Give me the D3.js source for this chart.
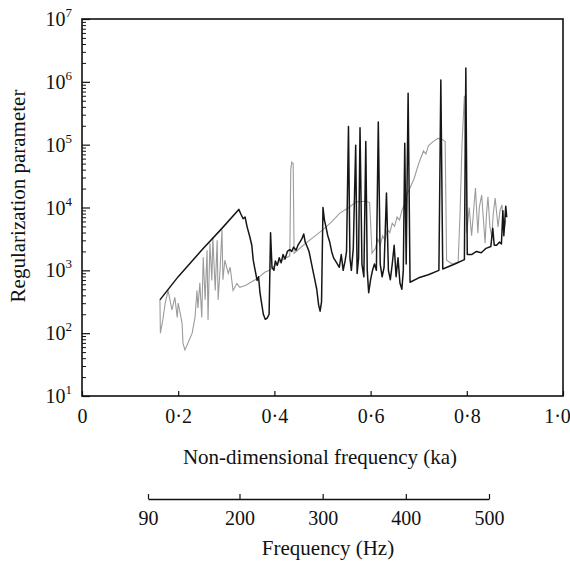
<!DOCTYPE html>
<html>
<head>
<meta charset="utf-8">
<script src="https://cdn.jsdelivr.net/npm/d3@7"></script>
<style>
  body { margin: 0; background: #fff; }
  svg text { font-family: "Liberation Serif", "DejaVu Serif", serif !important; fill: #111; }
</style>
</head>
<body>
<div id="chart"></div>
<script>
// data: ka values and the regularization parameter
let blackKa = [0.162, 0.20, 0.25, 0.29, 0.326, 0.330, 0.335, 0.339, 0.343, 0.349, 0.353, 0.356, 0.360, 0.364, 0.367, 0.370,
  0.374, 0.377, 0.381, 0.385, 0.389, 0.392, 0.395, 0.399, 0.402, 0.406, 0.410, 0.414, 0.418, 0.422, 0.427, 0.432, 0.436,
  0.440, 0.445, 0.449, 0.453, 0.457, 0.461, 0.464, 0.468, 0.472, 0.476, 0.480, 0.484, 0.488, 0.492, 0.495, 0.498, 0.501,
  0.504, 0.507, 0.511, 0.515, 0.519, 0.523, 0.527, 0.531, 0.535, 0.539, 0.543, 0.547, 0.550, 0.554, 0.557, 0.560, 0.564,
  0.569, 0.572, 0.575, 0.578, 0.582, 0.586, 0.590, 0.593, 0.596, 0.600, 0.604, 0.608, 0.612, 0.616, 0.620, 0.624, 0.628,
  0.633, 0.637, 0.641, 0.645, 0.649, 0.653, 0.657, 0.661, 0.665, 0.668, 0.671, 0.674, 0.678, 0.682, 0.700, 0.720, 0.742,
  0.746, 0.750, 0.775, 0.795, 0.798, 0.801, 0.810, 0.820, 0.830, 0.840, 0.850, 0.854, 0.857, 0.862, 0.868, 0.872, 0.875,
  0.877, 0.881, 0.883];
let blackVal = [339, 794, 2140, 4570, 9330, 7940, 6610, 7080, 5010, 3390, 2510, 1450, 1000, 690, 790, 440,
  280, 200, 166, 174, 200, 3980, 1120, 1000, 1410, 1200, 1580, 1320, 1780, 1510, 2000, 2140, 2000,
  2340, 2090, 2510, 2820, 3160, 3800, 2820, 2400, 2000, 1410, 1000, 710, 500, 280, 224, 316, 10000,
  6310, 5010, 3550, 2820, 2000, 1580, 1410, 1260, 1120, 1780, 1000, 1410, 2000, 195000, 1580, 1000, 2240,
  97700, 890, 1580, 186000, 1260, 790, 112000, 1000, 440, 710, 1000, 1260, 1000, 229000, 1260, 790, 1120,
  17000, 1000, 710, 1260, 2510, 790, 1580, 630, 500, 1000, 105000, 1260, 661000, 646, 760, 850, 1000,
  1070000, 1050, 1260, 1480, 1660000, 1780, 1780, 2000, 1900, 2240, 2400, 4680, 2510, 2510, 2820, 2630, 8910,
  3550, 10500, 7000];

let greyKa = [0.162, 0.163, 0.168, 0.173, 0.179, 0.187, 0.193, 0.198, 0.200, 0.208, 0.210, 0.214, 0.220, 0.229, 0.235,
  0.239, 0.241, 0.245, 0.249, 0.252, 0.256, 0.260, 0.262, 0.266, 0.270, 0.272, 0.277, 0.281, 0.283, 0.287, 0.291, 0.293,
  0.297, 0.304, 0.308, 0.314, 0.322, 0.328, 0.340, 0.350, 0.360, 0.370, 0.380, 0.390, 0.400, 0.410, 0.420, 0.432, 0.434,
  0.436, 0.439, 0.441, 0.460, 0.480, 0.500, 0.520, 0.536, 0.555, 0.570, 0.590, 0.598, 0.603, 0.610, 0.615, 0.620, 0.625,
  0.630, 0.635, 0.640, 0.645, 0.650, 0.655, 0.660, 0.665, 0.670, 0.675, 0.680, 0.690, 0.700, 0.710, 0.715, 0.720, 0.730,
  0.740, 0.750, 0.755, 0.758, 0.770, 0.782, 0.786, 0.790, 0.795, 0.800, 0.805, 0.810, 0.818, 0.823, 0.826, 0.831, 0.838,
  0.841, 0.844, 0.848, 0.852, 0.855, 0.859, 0.865, 0.869, 0.873, 0.877, 0.881];
let greyVal = [339, 100, 162, 302, 479, 234, 372, 178, 302, 145, 69, 54, 69, 100, 178,
  479, 251, 631, 178, 1620, 339, 2090, 162, 2690, 692, 3390, 479, 3020, 339, 1000, 4370, 708,
  1450, 891, 1120, 479, 617, 537, 575, 640, 708, 800, 933, 1000, 1175, 1350, 1514, 1700, 40000,
  52500, 50000, 1860, 2510, 3310, 4370, 6030, 8130, 10000, 12300, 12600, 12000, 1860, 2240, 3160, 2510, 3550,
  3020, 4470, 3980, 5620, 5010, 7080, 6310, 8910, 11200, 15850, 19050, 28200, 50100, 79400, 70800, 95500, 112000,
  126000, 120000, 112000, 1450, 1260, 1350, 8130, 100000, 600000, 3980, 10000, 3550, 20400, 3890, 10000, 15850, 2690,
  7940, 14800, 5010, 3390, 7940, 14100, 4900, 8910, 11000, 3980, 6310];

let kaTicks = [0, 0.2, 0.4, 0.6, 0.8, 1.0];
let hzTicks = [90, 200, 300, 400, 500];
let decadeTicks = [1e1, 1e2, 1e3, 1e4, 1e5, 1e6, 1e7];

let serif = '"Liberation Serif", "DejaVu Serif", serif';

//Step 1: setup
let svgWidth = 570;
let svgHeight = 561;
let margin = { top: 19, right: 7, bottom: 165, left: 82 };
let width = svgWidth - margin.left - margin.right;
let height = svgHeight - margin.top - margin.bottom;

let svg = d3.select('#chart')
  .append('svg')
  .attr('width', svgWidth)
  .attr('height', svgHeight)
  .attr('font-family', serif);

let chartGroup = svg.append('g')
  .attr('transform', `translate(${margin.left},${margin.top})`);

//Step 2: scales
let xScale = d3.scaleLinear().domain([0, 1]).range([0, width]);
let yScale = d3.scaleLog().domain([10, 1e7]).range([height, 0]);
let hzScale = d3.scaleLinear().domain([90, 500]).range([148 - margin.left, 489 - margin.left]);

//Step 3: lines
let line = d3.line()
  .x(d => xScale(d[0]))
  .y(d => yScale(d[1]));

let greyData = greyKa.map((k, i) => [k, greyVal[i]]);
let blackData = blackKa.map((k, i) => [k, blackVal[i]]);

chartGroup.append('path')
  .datum(greyData)
  .attr('d', line)
  .attr('fill', 'none')
  .attr('stroke', '#9c9c9c')
  .attr('stroke-width', 1.1);

chartGroup.append('path')
  .datum(blackData)
  .attr('d', line)
  .attr('fill', 'none')
  .attr('stroke', '#161616')
  .attr('stroke-width', 1.5)
  .attr('stroke-linejoin', 'round');

//Step 4: axes
// left axis, ticks pointing inwards
let minorTicks = [];
decadeTicks.slice(0, -1).forEach(d => {
  for (let m = 2; m < 10; m++) minorTicks.push(d * m);
});

chartGroup.append('g')
  .call(d3.axisLeft(yScale).tickValues(minorTicks).tickSize(-4).tickFormat(''))
  .call(g => g.select('.domain').remove())
  .selectAll('line').attr('stroke', '#111');

let yAxis = chartGroup.append('g')
  .call(d3.axisLeft(yScale).tickValues(decadeTicks).tickSize(-8).tickFormat(''))
  .call(g => g.select('.domain').remove());
yAxis.selectAll('line').attr('stroke', '#111').attr('stroke-width', 1.2);

// decade labels as 10 with superscript
let yLabels = chartGroup.append('g');
decadeTicks.forEach(d => {
  let t = yLabels.append('text')
    .attr('x', -10)
    .attr('y', yScale(d) + 7)
    .attr('text-anchor', 'end')
    .style('font-size', '20px');
  t.append('tspan').text('10');
  t.append('tspan')
    .attr('dy', -9)
    .style('font-size', '13px')
    .text(Math.round(Math.log10(d)));
});

// bottom axis (ka)
let xAxis = chartGroup.append('g')
  .attr('transform', `translate(0, ${height})`)
  .call(d3.axisBottom(xScale).tickValues(kaTicks).tickSize(-5).tickPadding(13)
    .tickFormat(d => d === 0 ? '0' : d3.format('.1f')(d).replace('.', '\u00b7')));
xAxis.attr('font-family', serif);
xAxis.select('.domain').remove();
xAxis.selectAll('line').attr('stroke', '#111').attr('stroke-width', 1.2);
xAxis.selectAll('text')
  .style('font-size', '20px')
  .attr('fill', '#111')
  .attr('x', d => d === 1 ? -6 : 0);

// frame
chartGroup.append('rect')
  .attr('width', width)
  .attr('height', height)
  .attr('fill', 'none')
  .attr('stroke', '#111')
  .attr('stroke-width', 1.6);

// frequency axis below
let hzAxis = chartGroup.append('g')
  .attr('transform', `translate(0, ${499 - margin.top})`)
  .call(d3.axisBottom(hzScale).tickValues(hzTicks).tickSize(-5).tickSizeOuter(0).tickPadding(12));
hzAxis.attr('font-family', serif);
hzAxis.select('.domain').attr('stroke', '#111').attr('stroke-width', 1.6);
hzAxis.selectAll('line').attr('stroke', '#111').attr('stroke-width', 1.2);
hzAxis.selectAll('text').style('font-size', '20px').attr('fill', '#111');

//Step 5: titles
svg.append('text')
  .attr('x', 320)
  .attr('y', 464)
  .attr('text-anchor', 'middle')
  .style('font-size', '21px')
  .text('Non-dimensional frequency (ka)');

svg.append('text')
  .attr('x', 328)
  .attr('y', 555)
  .attr('text-anchor', 'middle')
  .style('font-size', '21px')
  .text('Frequency (Hz)');

svg.append('text')
  .attr('transform', 'rotate(-90)')
  .attr('x', -196)
  .attr('y', 25)
  .attr('text-anchor', 'middle')
  .style('font-size', '21px')
  .text('Regularization parameter');
</script>
</body>
</html>
